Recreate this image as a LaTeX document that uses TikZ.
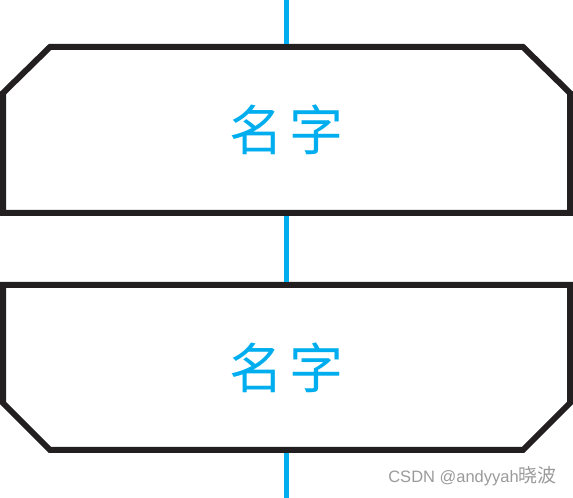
\documentclass[tikz,border=0pt]{standalone}
\usepackage{fontspec}
\newfontfamily\cjk[LetterSpace=10]{Noto Sans CJK SC}
\newfontfamily\wmcjk{Noto Sans CJK SC}
\newfontfamily\wmlat{Liberation Sans}
\definecolor{edge}{HTML}{231F20}
\definecolor{flow}{HTML}{00AEEF}
\definecolor{wm}{HTML}{9A9A9A}
\tikzset{
  box/.style={draw=edge, line width=6pt, line join=miter},
  conn/.style={draw=flow, line width=5pt},
  lbl/.style={text=flow, font=\cjk\fontsize{54}{60}\selectfont, inner sep=0pt},
}
\begin{document}
\begin{tikzpicture}[x=1pt,y=1pt]
\useasboundingbox (0,0) rectangle (573,498);
% top shape (chamfered top corners)
\draw[box] (3,405) -- (50,451) -- (523,451) -- (570,405) -- (570,285) -- (3,285) -- cycle;
% bottom shape (chamfered bottom corners)
\draw[box] (3,213) -- (570,213) -- (570,95) -- (523,48) -- (50,48) -- (3,95) -- cycle;
\node[lbl] (t1) at (286.5,368) {名字};
\node[lbl] (t2) at (286.5,130) {名字};
\coordinate (top) at (286.5,498);
\coordinate (a1) at (286.5,454);
\coordinate (a2) at (286.5,282);
\coordinate (b1) at (286.5,216);
\coordinate (b2) at (286.5,45);
\coordinate (bot) at (286.5,0);
\draw[conn] (top) -- (a1);
\draw[conn] (a2) -- (b1);
\draw[conn] (b2) -- (bot);
\node[anchor=base east, text=wm, inner sep=0pt] (wm) at (557,15) {\wmlat\fontsize{16.5}{18}\selectfont CSDN @andyyah\wmcjk\fontsize{19}{22}\selectfont 晓波};
\end{tikzpicture}
\end{document}
